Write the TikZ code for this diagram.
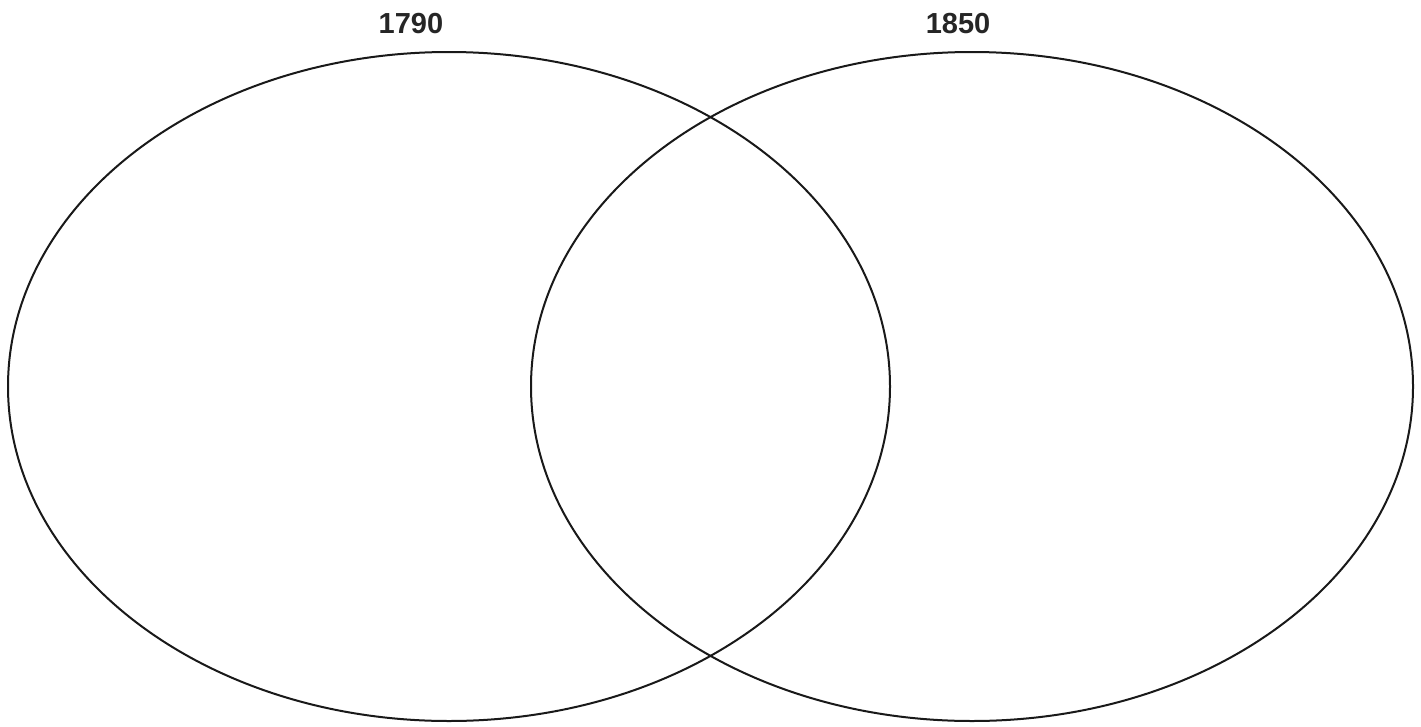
\documentclass[tikz,border=0pt]{standalone}
\usepackage{fontspec}
\setmainfont{Liberation Sans}
\usetikzlibrary{shapes.geometric}
\begin{document}
\begin{tikzpicture}[x=1pt,y=-1pt,
  venn/.style={draw=black!90,line width=2pt,ellipse,minimum width=882pt,minimum height=669pt,inner sep=0pt,outer sep=0pt},
  lbl/.style={font=\fontsize{29}{32}\selectfont\bfseries,text=black!85,inner sep=0pt,anchor=base}]
\useasboundingbox (0,0) rectangle (1421,726);
\node[venn] (L) at (449,386.5) {};
\node[venn] (R) at (972,386.5) {};
\node[lbl] (t1) at (411,33) {1790};
\node[lbl] (t2) at (958,33) {1850};
\end{tikzpicture}
\end{document}
